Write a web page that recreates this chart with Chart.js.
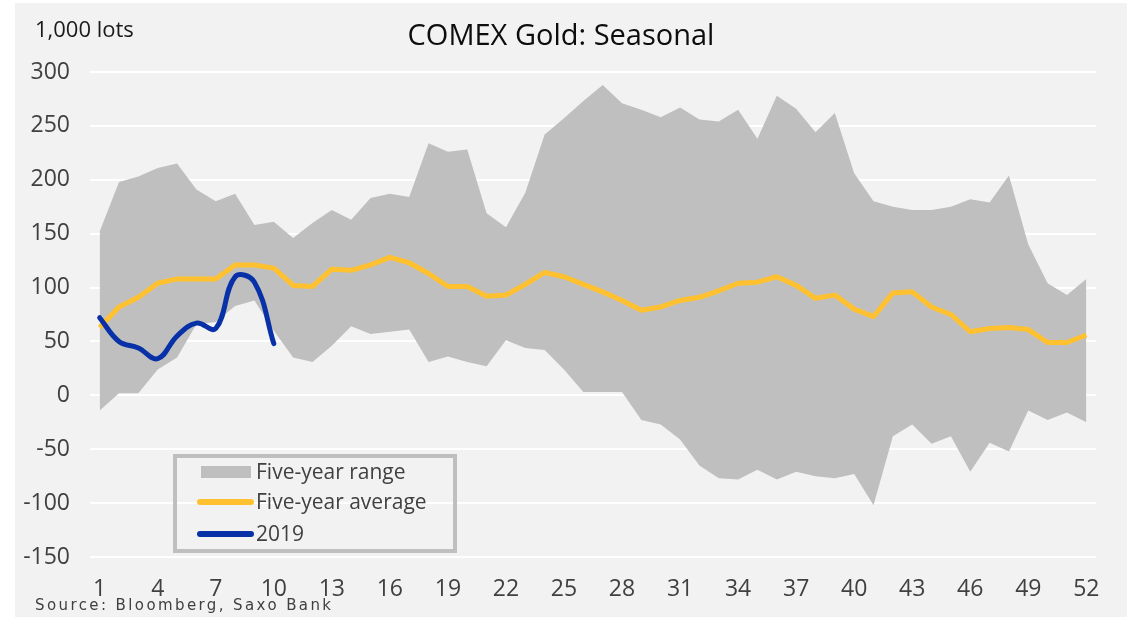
<!DOCTYPE html>
<html>
<head>
<meta charset="utf-8">
<title>COMEX Gold: Seasonal</title>
<script src="https://cdn.jsdelivr.net/npm/chart.js@4.4.1/dist/chart.umd.min.js"></script>
<style>
  body { margin: 0; background: #fff; font-family: 'Open Sans', sans-serif; }
  #panel { position: absolute; left: 15px; top: 3px; width: 1112px; height: 614px; background: #f2f2f2; }
  #wrap { position: absolute; left: 0; top: 0; width: 1137px; height: 617px; }
  .txt { position: absolute; white-space: nowrap; line-height: 1; }
  #title { left: 361px; width: 400px; top: 19px; text-align: center; font-size: 29px; color: #0d0d0d; }
  #unit { left: 35px; top: 17px; font-size: 22px; color: #1a1a1a; }
  #source { left: 35px; top: 598px; font-family: 'DejaVu Sans', sans-serif; font-size: 15px; letter-spacing: 2.4px; color: #404040; }
  #legend { position: absolute; left: 173px; top: 454px; width: 284px; height: 99px; box-sizing: border-box; border: 4px solid #bfbfbf; }
  .row { position: absolute; left: 0; height: 30px; width: 276px; }
  .row .mark { position: absolute; }
  .row span { position: absolute; left: 79px; top: 3px; font-size: 21px; line-height: 1.1; color: #404040; }
</style>
</head>
<body>
<div id="panel"></div>
<div id="wrap"><canvas id="chart" width="1137" height="617"></canvas></div>
<div class="txt" id="unit">1,000 lots</div>
<div class="txt" id="title">COMEX Gold: Seasonal</div>
<div class="txt" id="source">Source: Bloomberg, Saxo Bank</div>
<div id="legend"></div>

<script>
// semanas do ano
const semanas = [1, 2, 3, 4, 5, 6, 7, 8, 9, 10, 11, 12, 13, 14, 15, 16, 17, 18, 19, 20, 21, 22, 23, 24, 25, 26,
  27, 28, 29, 30, 31, 32, 33, 34, 35, 36, 37, 38, 39, 40, 41, 42, 43, 44, 45, 46, 47, 48, 49, 50, 51, 52];

// faixa de cinco anos (máx / mín), em 1.000 lotes
const faixaMax = [152, 198, 203, 211, 215, 191, 180, 187, 158, 161, 146, 160, 172, 163, 183, 187, 184, 234, 226, 228,
  169, 156, 188, 242, 257, 273, 288, 271, 265, 258, 267, 256, 254, 265, 238, 278, 266, 244, 262, 206,
  180, 175, 172, 172, 175, 182, 179, 204, 140, 104, 93, 108];
const faixaMin = [-14, 2, 2, 24, 35, 66, 68, 83, 88, 60, 35, 31, 46, 64, 57, 59, 61, 31, 36, 31,
  27, 51, 44, 42, 24, 3, 3, 3, -23, -27, -41, -65, -77, -78, -69, -78, -71, -75, -77, -73,
  -102, -38, -27, -45, -38, -71, -44, -52, -14, -23, -16, -25];

// média de cinco anos
const media5 = [63, 82, 91, 104, 108, 108, 108, 121, 121, 118, 102, 101, 117, 116, 121, 128, 123, 113, 101, 101,
  92, 93, 103, 114, 110, 103, 96, 88, 79, 82, 88, 91, 97, 104, 105, 110, 102, 90, 93, 80,
  73, 95, 96, 82, 75, 59, 62, 63, 61, 49, 49, 56];

// 2019 (até a semana 10)
const ano2019 = [72, 50, 44, 34, 55, 67, 62, 110, 105, 48];

const yTicks = { min: -150, max: 300, step: 50 };

const COR_FAIXA = '#bfbfbf';
const COR_MEDIA = '#ffc12f';
const COR_2019 = '#0831a8';
const COR_TEXTO = '#404040';
const FONTE = "'Open Sans', sans-serif";

const datasets = [
  { label: '2019', data: ano2019, borderColor: COR_2019, borderWidth: 5, tension: 0.4,
    borderCapStyle: 'round', pointRadius: 0, fill: false, order: 0 },
  { label: 'Five-year average', data: media5, borderColor: COR_MEDIA, borderWidth: 5, tension: 0,
    borderJoinStyle: 'round', pointRadius: 0, fill: false, order: 1 },
  { label: 'Five-year range', data: faixaMax, borderColor: 'rgba(0,0,0,0)', borderWidth: 0,
    backgroundColor: COR_FAIXA, pointRadius: 0, fill: '+1', order: 2 },
  { label: 'range-low', data: faixaMin, borderColor: 'rgba(0,0,0,0)', borderWidth: 0,
    pointRadius: 0, fill: false, order: 3 }
];

new Chart(document.getElementById('chart'), {
  type: 'line',
  data: { labels: semanas, datasets },
  options: {
    responsive: false,
    animation: false,
    layout: { padding: { top: 72, right: 41, bottom: 12, left: 0 } },
    plugins: {
      legend: { display: false },
      tooltip: { enabled: false },
      filler: { drawTime: 'beforeDatasetsDraw' }
    },
    scales: {
      x: {
        offset: true,
        grid: { display: false },
        border: { display: false },
        ticks: {
          autoSkip: false, maxRotation: 0, padding: 11, color: COR_TEXTO,
          font: { family: FONTE, size: 23 },
          callback: (v, i) => (i % 3 === 0 ? semanas[i] : '')
        },
        // altura fixa para que os rótulos não sejam cortados
        afterFit: s => { s.height = 48; }
      },
      y: {
        min: yTicks.min, max: yTicks.max,
        border: { display: false },
        grid: { color: '#ffffff', lineWidth: 2, drawTicks: false },
        ticks: { stepSize: yTicks.step, padding: 20, color: COR_TEXTO, font: { family: FONTE, size: 23 } },
        afterFit: s => { s.width = 90; }
      }
    }
  }
});

// Legenda em HTML
const legenda = document.getElementById('legend');
const itens = [
  { ds: datasets[2], tipo: 'box', cy: 14 },
  { ds: datasets[1], tipo: 'line', cy: 44 },
  { ds: datasets[0], tipo: 'line', cy: 76 }
];
itens.forEach(it => {
  const row = document.createElement('div');
  row.className = 'row';
  row.style.top = (it.cy - 15) + 'px';
  const mark = document.createElement('div');
  mark.className = 'mark';
  if (it.tipo === 'box') {
    Object.assign(mark.style, { left: '24px', top: '9px', width: '50px', height: '12px', background: it.ds.backgroundColor });
  } else {
    Object.assign(mark.style, { left: '20px', top: '12px', width: '57px', height: '6px', borderRadius: '3px', background: it.ds.borderColor });
  }
  const span = document.createElement('span');
  span.textContent = it.ds.label;
  row.appendChild(mark);
  row.appendChild(span);
  legenda.appendChild(row);
});
</script>
</body>
</html>
